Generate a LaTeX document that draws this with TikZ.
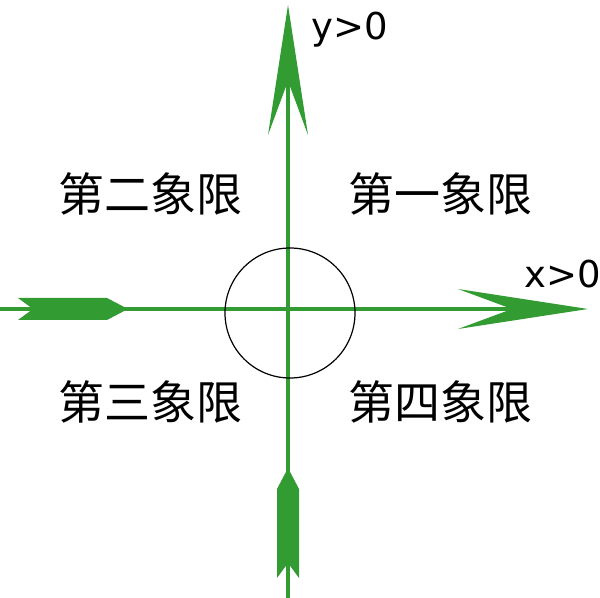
\documentclass[tikz,border=0pt]{standalone}
\usepackage{fontspec}
\usepackage{tikz}
\usetikzlibrary{arrows.meta}
\newfontfamily\cjk{Noto Sans CJK SC}
\newfontfamily\labelfont{DejaVu Sans}
\definecolor{axisgreen}{RGB}{50,155,50}

\begin{document}
\begin{tikzpicture}[
    x=0.5pt, y=-0.5pt,
    axis/.style={
        draw=axisgreen,
        line width=2.2pt,
        -{Stealth[length=65pt, width=20pt, inset=27pt, line width=0pt]}
    },
    feather/.pic={
        \fill[axisgreen] (0,-11) -- (89,-11) -- (110,0) -- (89,11)
            -- (0,11) -- (15,0) -- cycle;
    },
    quadrant/.style={
        font=\cjk\fontsize{23}{23}\selectfont,
        inner sep=0pt
    },
    axislabel/.style={
        font=\labelfont\fontsize{18.5}{18.5}\selectfont,
        anchor=base west,
        inner sep=0pt
    }
]

\useasboundingbox (0,0) rectangle (600,598);

\coordinate (O)     at (288,309);
\coordinate (west)  at (0,309);
\coordinate (east)  at (588,309);
\coordinate (south) at (288,598);
\coordinate (north) at (288,5);

% axes with their tails
\draw[axis] (west) -- (east);
\draw[axis] (south) -- (north);
\pic at (18,309) {feather};
\pic[rotate=90] at (288,578) {feather};

\draw[line width=0.6pt] (290,313) circle (65);

\node[axislabel] (ylab) at (311,40)  {y>0};
\node[axislabel] (xlab) at (524,288) {x>0};

\node[quadrant] (q1) at (440,194) {第一象限};
\node[quadrant] (q2) at (150,194) {第二象限};
\node[quadrant] (q3) at (150,402) {第三象限};
\node[quadrant] (q4) at (440,402) {第四象限};

\end{tikzpicture}
\end{document}
